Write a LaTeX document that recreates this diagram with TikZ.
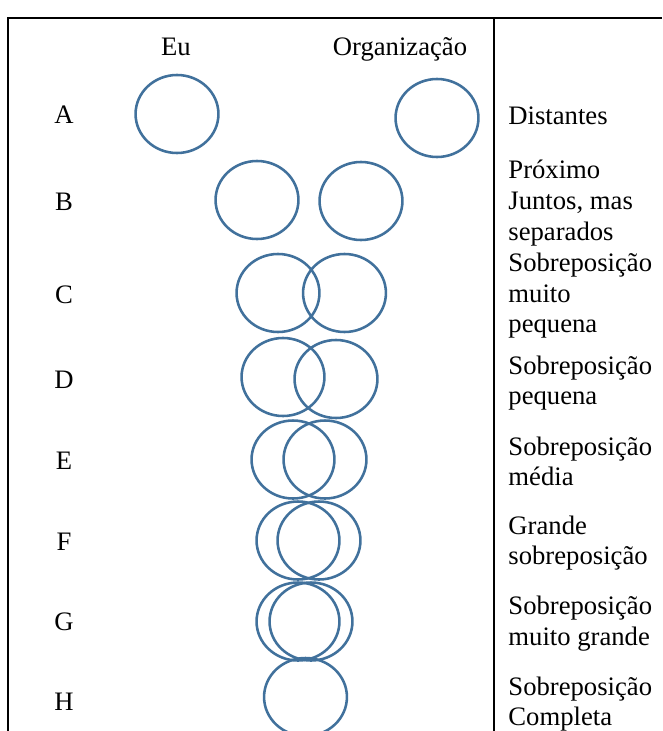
\documentclass[tikz,border=0pt]{standalone}
\usepackage{fontspec}
\setmainfont{Liberation Serif}
\usetikzlibrary{shapes.geometric}
\definecolor{ringblue}{RGB}{65,113,156}
\tikzset{
  ring/.style={ellipse, draw=ringblue, line width=1.15pt, inner sep=0pt,
               minimum width=37.3pt, minimum height=35.1pt},
  rowlabel/.style={anchor=base, font=\fontsize{12}{13.8}\selectfont, inner sep=0pt},
  desc/.style={anchor=base west, font=\fontsize{12}{13.8}\selectfont, inner sep=0pt},
  head/.style={anchor=base, font=\fontsize{12}{13.8}\selectfont, inner sep=0pt},
  rule/.style={line width=0.85pt, black}
}
\begin{document}
\begin{tikzpicture}[x=0.45pt, y=-0.45pt]
\useasboundingbox (0,0) rectangle (662,731);

% table frame
\coordinate (tl) at (8,18);
\coordinate (tr) at (662,18);
\coordinate (bl) at (8,731);
\coordinate (mt) at (494,18);
\coordinate (mb) at (494,731);
\draw[rule] (bl) -- (tl) -- (tr);
\draw[rule] (mt) -- (mb);

% column heads
\node[head] (hEu) at (176,55) {Eu};
\node[head] (hOrg) at (400,55) {Organização};

% row letters
\foreach \l/\y in {A/123, B/210, C/303, D/388, E/469, F/550, G/630, H/710}
  \node[rowlabel] (row\l) at (64,\y) {\l};

% circle pairs
\node[ring] (A1) at (177,114) {};
\node[ring] (A2) at (437,118) {};
\node[ring] (B1) at (257,200) {};
\node[ring] (B2) at (361,201) {};
\node[ring] (C1) at (278,293) {};
\node[ring] (C2) at (344.5,293) {};
\node[ring] (D1) at (283,377) {};
\node[ring] (D2) at (336,379) {};
\node[ring] (E1) at (293,459.5) {};
\node[ring] (E2) at (325,459.5) {};
\node[ring] (F1) at (298,540.5) {};
\node[ring] (F2) at (319,540.5) {};
\node[ring] (G1) at (298,621.5) {};
\node[ring] (G2) at (311,621.5) {};
\node[ring] (H1) at (305.5,697) {};

% descriptions
\foreach \t/\y [count=\i] in {
  Distantes/124,
  Próximo/178, {Juntos, mas}/209, separados/240,
  Sobreposição/271, muito/302, pequena/332,
  Sobreposição/374, pequena/404,
  Sobreposição/455, média/485,
  Grande/534, sobreposição/564,
  Sobreposição/614, {muito grande}/645,
  Sobreposição/695, Completa/725}
  \node[desc] (d\i) at (508,\y) {\t};
\end{tikzpicture}
\end{document}
